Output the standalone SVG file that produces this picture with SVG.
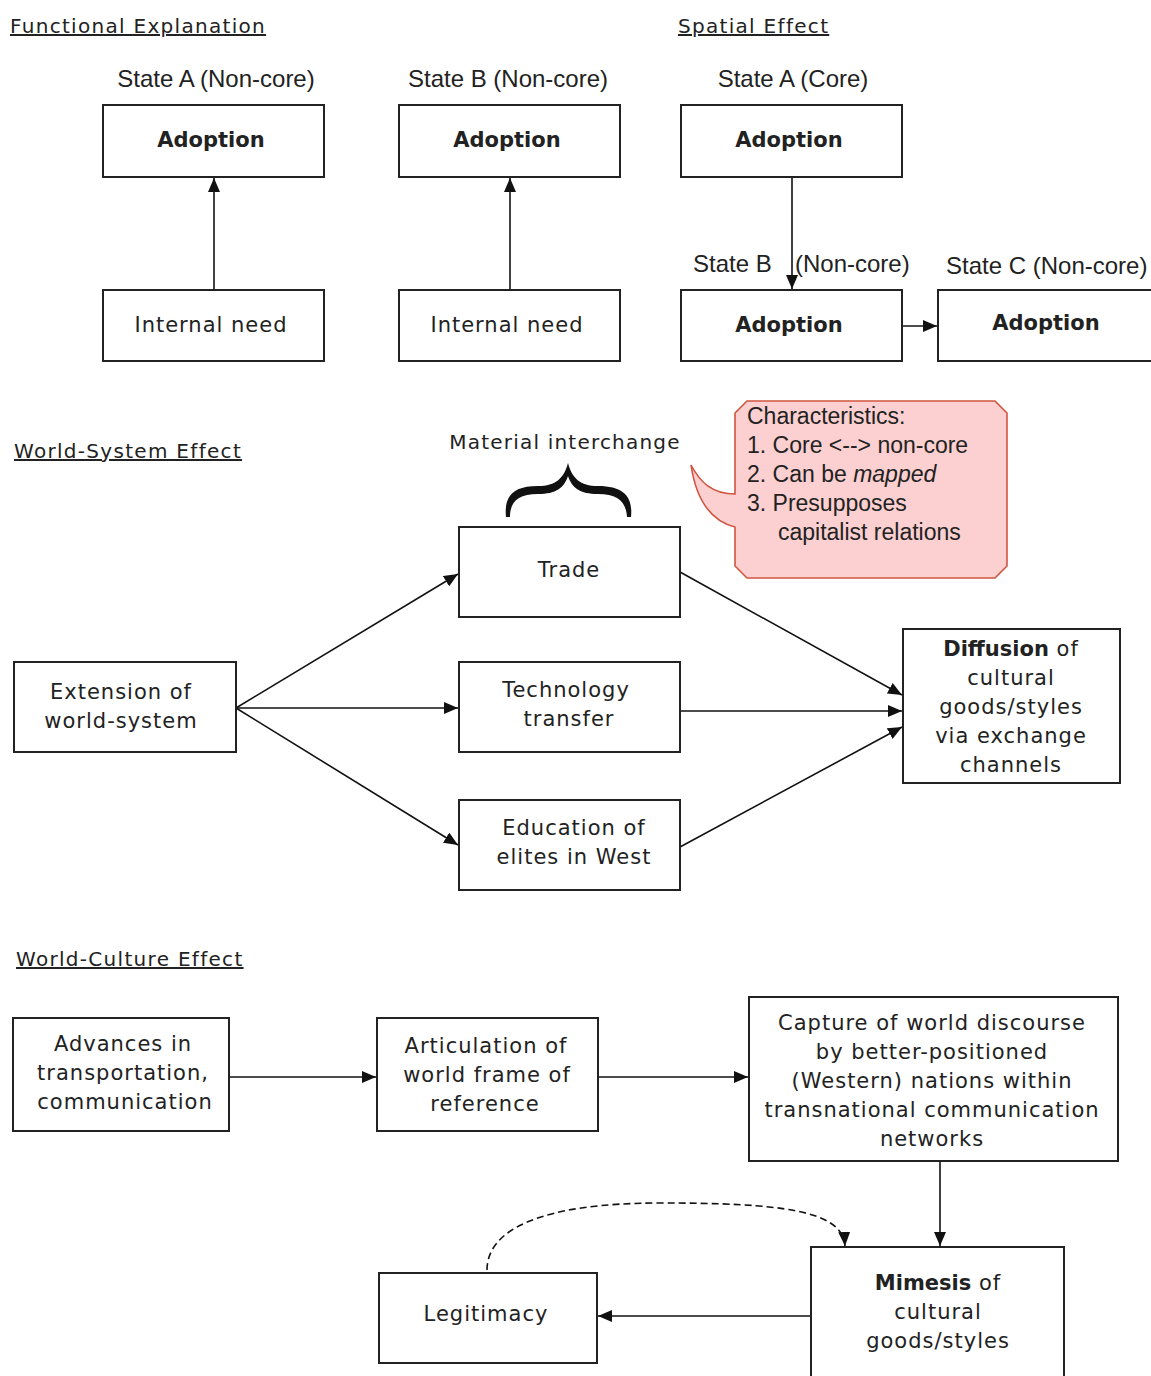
<svg xmlns="http://www.w3.org/2000/svg" width="1151" height="1376" viewBox="0 0 1151 1376">
<style>
.box{fill:#fff;stroke:#222;stroke-width:2}
.t{font-family:"DejaVu Sans",sans-serif;font-size:21px;letter-spacing:1px;fill:#222;text-anchor:middle}
.b{font-weight:bold;letter-spacing:0}
.h{font-family:"DejaVu Sans",sans-serif;font-size:20px;letter-spacing:1.3px;fill:#222;text-decoration:underline}
.l{font-family:"Liberation Sans",Arial,sans-serif;font-size:24px;fill:#222}
.c{font-family:"Liberation Sans",Arial,sans-serif;font-size:23px;fill:#222}
.e{stroke:#111;stroke-width:1.6;fill:none}
</style>
<defs>
<marker id="a" viewBox="0 0 14 12" refX="14" refY="6" markerWidth="14" markerHeight="12" markerUnits="userSpaceOnUse" orient="auto">
<path d="M0,0 L14,6 L0,12 z" fill="#111"/>
</marker>
</defs>

<g id="headings">
<text class="h" x="10" y="33">Functional Explanation</text>
<text class="h" x="678" y="33">Spatial Effect</text>
<text class="h" x="14" y="458">World-System Effect</text>
<text class="h" x="16" y="966">World-Culture Effect</text>
</g>

<g id="labels">
<text class="l" x="216" y="87" text-anchor="middle">State A (Non-core)</text>
<text class="l" x="508" y="87" text-anchor="middle">State B (Non-core)</text>
<text class="l" x="793" y="87" text-anchor="middle">State A (Core)</text>
<text class="l" x="693" y="272">State B</text>
<text class="l" x="795" y="272">(Non-core)</text>
<text class="l" x="946" y="274">State C (Non-core)</text>
<text class="t" x="565" y="449" style="font-size:20px;letter-spacing:1.2px">Material interchange</text>
</g>

<g id="connectors">
<line class="e" x1="214" y1="290" x2="214" y2="178" marker-end="url(#a)"/>
<line class="e" x1="510" y1="290" x2="510" y2="178" marker-end="url(#a)"/>
<line class="e" x1="792" y1="177" x2="792" y2="289" marker-end="url(#a)"/>
<line class="e" x1="902" y1="326" x2="937" y2="326" marker-end="url(#a)"/>
<line class="e" x1="236" y1="708" x2="458" y2="574" marker-end="url(#a)"/>
<line class="e" x1="236" y1="708" x2="458" y2="708" marker-end="url(#a)"/>
<line class="e" x1="236" y1="708" x2="458" y2="845" marker-end="url(#a)"/>
<line class="e" x1="680" y1="572" x2="902" y2="695" marker-end="url(#a)"/>
<line class="e" x1="680" y1="711" x2="902" y2="711" marker-end="url(#a)"/>
<line class="e" x1="680" y1="847" x2="902" y2="727" marker-end="url(#a)"/>
<line class="e" x1="229" y1="1077" x2="376" y2="1077" marker-end="url(#a)"/>
<line class="e" x1="598" y1="1077" x2="748" y2="1077" marker-end="url(#a)"/>
<line class="e" x1="940" y1="1161" x2="940" y2="1246" marker-end="url(#a)"/>
<line class="e" x1="811" y1="1316" x2="598" y2="1316" marker-end="url(#a)"/>
<path class="e" d="M487,1270 C487,1230 540,1203 660,1203 C780,1203 843,1210 845,1246" stroke-dasharray="7,4" marker-end="url(#a)"/>
</g>

<g id="brace">
<path d="M506,517 C504,497 512,486 538,486 C556,486 564,478 568,463 C572,478 580,486 598,486 C624,486 633,497 631,517 L627,517 C626,502 618,494 598,494 C580,494 572,488 568,476 C564,488 556,494 538,494 C518,494 510,502 510,517 Z" fill="#111"/>
</g>

<g id="callout">
<path d="M747,401 L995,401 L1007,413 L1007,566 L995,578 L747,578 L735,566 L735,527 C715,522 697,505 691,465 C700,482 712,494 735,494 L735,413 Z" fill="#fcd0d0" stroke="#d0553f" stroke-width="1.6"/>
<text class="c" x="747" y="424">Characteristics:</text>
<text class="c" x="747" y="453">1. Core &lt;--&gt; non-core</text>
<text class="c" x="747" y="482">2. Can be <tspan font-style="italic">mapped</tspan></text>
<text class="c" x="747" y="511">3. Presupposes</text>
<text class="c" x="778" y="540">capitalist relations</text>
</g>

<g id="n1"><rect class="box" x="103" y="105" width="221" height="72"/><text class="t b" x="211" y="147">Adoption</text></g>
<g id="n2"><rect class="box" x="399" y="105" width="221" height="72"/><text class="t b" x="507" y="147">Adoption</text></g>
<g id="n3"><rect class="box" x="681" y="105" width="221" height="72"/><text class="t b" x="789" y="147">Adoption</text></g>
<g id="n4"><rect class="box" x="103" y="290" width="221" height="71"/><text class="t" x="211" y="332">Internal need</text></g>
<g id="n5"><rect class="box" x="399" y="290" width="221" height="71"/><text class="t" x="507" y="332">Internal need</text></g>
<g id="n6"><rect class="box" x="681" y="290" width="221" height="71"/><text class="t b" x="789" y="332">Adoption</text></g>
<g id="n7"><rect class="box" x="938" y="290" width="220" height="71"/><text class="t b" x="1046" y="330">Adoption</text></g>

<g id="n8"><rect class="box" x="459" y="527" width="221" height="90"/><text class="t" x="569" y="577">Trade</text></g>
<g id="n9"><rect class="box" x="459" y="662" width="221" height="90"/><text class="t" x="566" y="697">Technology</text><text class="t" x="569" y="726">transfer</text></g>
<g id="n10"><rect class="box" x="459" y="800" width="221" height="90"/><text class="t" x="574" y="835">Education of</text><text class="t" x="574" y="864">elites in West</text></g>
<g id="n11"><rect class="box" x="14" y="662" width="222" height="90"/><text class="t" x="121" y="699">Extension of</text><text class="t" x="121" y="728">world-system</text></g>
<g id="n12"><rect class="box" x="903" y="629" width="217" height="154"/>
<text class="t" x="1011" y="656"><tspan font-weight="bold" letter-spacing="0">Diffusion</tspan> of</text>
<text class="t" x="1011" y="685">cultural</text>
<text class="t" x="1011" y="714">goods/styles</text>
<text class="t" x="1011" y="743">via exchange</text>
<text class="t" x="1011" y="772">channels</text></g>

<g id="n13"><rect class="box" x="13" y="1018" width="216" height="113"/><text class="t" x="123" y="1051">Advances in</text><text class="t" x="123" y="1080">transportation,</text><text class="t" x="125" y="1109">communication</text></g>
<g id="n14"><rect class="box" x="377" y="1018" width="221" height="113"/><text class="t" x="486" y="1053">Articulation of</text><text class="t" x="487" y="1082">world frame of</text><text class="t" x="485" y="1111">reference</text></g>
<g id="n15"><rect class="box" x="749" y="997" width="369" height="164"/>
<text class="t" x="932" y="1030">Capture of world discourse</text>
<text class="t" x="932" y="1059">by better-positioned</text>
<text class="t" x="932" y="1088">(Western) nations within</text>
<text class="t" x="932" y="1117">transnational communication</text>
<text class="t" x="932" y="1146">networks</text></g>
<g id="n16"><rect class="box" x="811" y="1247" width="253" height="140"/>
<text class="t" x="938" y="1290"><tspan font-weight="bold" letter-spacing="0">Mimesis</tspan> of</text>
<text class="t" x="938" y="1319">cultural</text>
<text class="t" x="938" y="1348">goods/styles</text></g>
<g id="n17"><rect class="box" x="379" y="1273" width="218" height="90"/><text class="t" x="486" y="1321">Legitimacy</text></g>
</svg>
